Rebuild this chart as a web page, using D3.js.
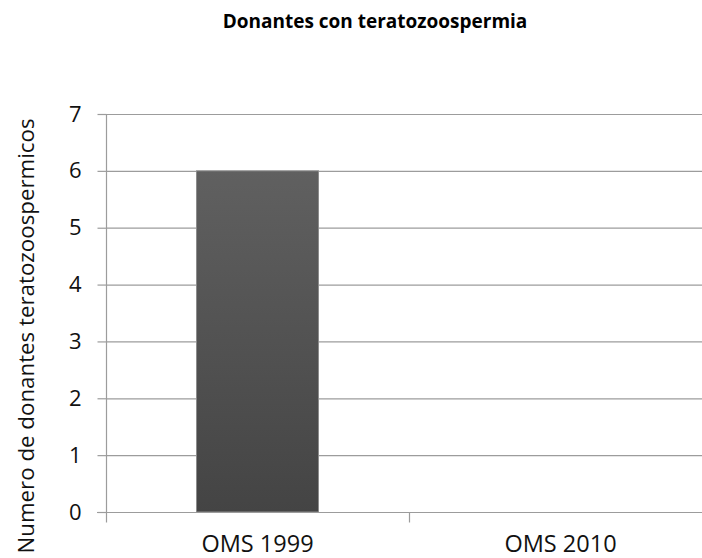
<!DOCTYPE html>
<html><head><meta charset="utf-8">
<script src="https://cdn.jsdelivr.net/npm/d3@7"></script>
<style>body{margin:0;background:#fff}svg{display:block}</style>
</head><body>
<script>
const categories = ["OMS 1999", "OMS 2010"];
const values = [6, 0];
const yTicks = [0, 1, 2, 3, 4, 5, 6, 7];
const title = "Donantes con teratozoospermia";
const yTitle = "Numero de donantes teratozoospermicos";

const W = 702, H = 558;
const svg = d3.select("body").append("svg").attr("width", W).attr("height", H);
const font = "'Open Sans', sans-serif";
const x0 = 106, x1 = 712, yTop = 114, yBot = 512;
const x = d3.scaleBand().domain(categories).range([x0, x1]).paddingInner(0).paddingOuter(0);
const y = d3.scaleLinear().domain([0, 7]).range([yBot, yTop]);

const defs = svg.append("defs");
const g = defs.append("linearGradient").attr("id", "barg").attr("x1", 0).attr("y1", 0).attr("x2", 0).attr("y2", 1);
g.append("stop").attr("offset", "0%").attr("stop-color", "#606060");
g.append("stop").attr("offset", "100%").attr("stop-color", "#444444");

// gridlines
svg.append("g").selectAll("line").data(yTicks.filter(d => d > 0)).join("line")
  .attr("x1", x0).attr("x2", W).attr("y1", d => y(d) + 0.5).attr("y2", d => y(d) + 0.5)
  .attr("stroke", "#9c9c9c").attr("stroke-width", 1.2);

// bars
const bw = 122;
svg.append("g").selectAll("rect").data(values.map((v, i) => ({c: categories[i], v}))).join("rect")
  .attr("x", d => x(d.c) + x.bandwidth() / 2 - bw / 2)
  .attr("width", bw)
  .attr("y", d => y(d.v))
  .attr("height", d => y(0) - y(d.v))
  .attr("fill", "url(#barg)").attr("stroke", "#8c8c8c").attr("stroke-width", 1);

// y axis
const ya = svg.append("g").attr("transform", `translate(${x0 + 0.5},0)`)
  .call(d3.axisLeft(y).tickValues(yTicks).tickSize(9).tickPadding(16).tickFormat(d3.format("d")));
ya.selectAll("line,path").attr("stroke", "#9c9c9c").attr("stroke-width", 1.2);
ya.select(".domain").attr("d", `M0,${yTop}V${yBot}`);
ya.selectAll("text").attr("font-family", font).attr("font-size", 22).attr("fill", "#111");

// x axis
const xa = svg.append("g").attr("transform", `translate(0,${yBot + 0.5})`)
  .call(d3.axisBottom(x).tickSize(0).tickPadding(0));
xa.selectAll("path").attr("stroke", "#9c9c9c").attr("stroke-width", 1.2)
  .attr("d", `M${x0 - 9},0H${x1}`);
xa.selectAll("text").attr("font-family", font).attr("font-size", 23.5).attr("fill", "#111")
  .attr("y", 39.5).attr("dy", null);
const bounds = [x0, x0 + x.bandwidth(), x1];
xa.append("g").selectAll("line").data(bounds).join("line")
  .attr("x1", d => d + 0.5).attr("x2", d => d + 0.5).attr("y1", 0).attr("y2", 10)
  .attr("stroke", "#9c9c9c").attr("stroke-width", 1.2);

// title
svg.append("text").attr("x", 375).attr("y", 28).attr("text-anchor", "middle")
  .attr("font-family", font).attr("font-weight", "bold").attr("font-size", 19).text(title);

// y title
svg.append("text").attr("transform", `translate(34,336) rotate(-90)`).attr("text-anchor", "middle")
  .attr("font-family", font).attr("font-size", 22.3).attr("fill", "#111").text(yTitle);
</script>
</body></html>
